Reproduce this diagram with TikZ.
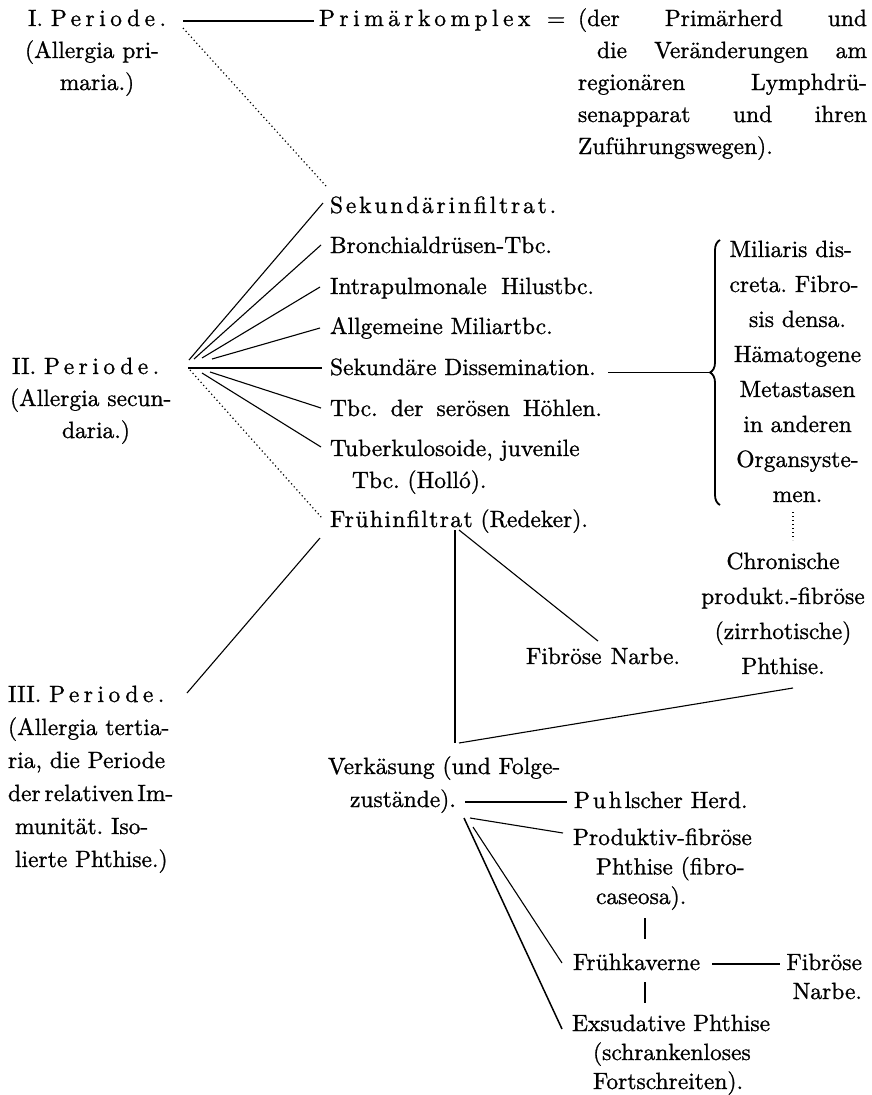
\documentclass[tikz,border=0pt]{standalone}
\usepackage{fontspec}
\setmainfont{lmroman10-regular.otf}[FakeBold=1]
\newfontfamily\spwide{lmroman10-regular.otf}[LetterSpace=19,FakeBold=1]
\newfontfamily\spmid{lmroman10-regular.otf}[LetterSpace=12,FakeBold=1]
\newfontfamily\spnarrow{lmroman10-regular.otf}[LetterSpace=6,FakeBold=1]
\usetikzlibrary{calc,decorations.pathreplacing}
\begin{document}
\begin{tikzpicture}[x=1pt,y=-1pt,
  txt/.style={inner sep=0pt,outer sep=0pt,anchor=base west,font=\fontsize{23.5}{32}\selectfont\frenchspacing},
  ln/.style={line width=1.1pt},
  dots/.style={line width=1.2pt,dash pattern=on 1.2pt off 2.8pt},
  bracestyle/.style={line width=1.8pt,decorate,decoration={brace,amplitude=10pt}}]
\fill[white] (0,0) rectangle (871,1095);
\useasboundingbox (0,0) rectangle (871,1095);

% ---------- Periode I ----------
\node[txt] (p1) at (28,26) {I. {\spwide Periode.}};
\node[txt,text width=144pt,align=center] (p1b) at (25,58) {\makebox[144pt][s]{(Allergia pri-}\\maria.)};
\node[txt] (pk) at (319,26) {{\spwide Primärkomplex}};
\node[txt] (eq) at (547,26) {=};
\node[txt,text width=289pt,align=justify] (pkt) at (578,26) {(der Primärherd und\linebreak\hspace*{19pt}die Veränderungen am\linebreak regionären Lymphdrü-\linebreak senapparat und ihren\linebreak Zuführungswegen).};

% ---------- Periode II ----------
\node[txt] (p2) at (12,374) {II. {\spwide Periode.}};
\node[txt,text width=172pt,align=center] (p2b) at (10,406) {\makebox[172pt][s]{(Allergia secun-}\\daria.)};
\coordinate (hub2) at (188,366);

\node[txt] (sek) at (330,213) {{\spmid Sekundärinfiltrat.}};
\node[txt] (bro) at (330,253) {Bronchialdrüsen-Tbc.};
\node[txt] (ipu) at (330,294) {\makebox[264pt][s]{Intrapulmonale Hilustbc.}};
\node[txt] (allg) at (330,334) {Allgemeine Miliartbc.};
\node[txt] (dis) at (330,375) {Sekundäre Dissemination.};
\node[txt] (ser) at (330,416) {\makebox[272pt][s]{Tbc. der serösen Höhlen.}};
\node[txt,text width=280pt,align=left] (tub) at (330,456) {\makebox[262pt][s]{Tuberkulosoide, juvenile}\\\hspace*{22pt}Tbc. (Holló).};
\node[txt] (frueh) at (330,527) {{\spnarrow Frühinfiltrat} (Redeker).};

\node[txt,text width=137pt,align=center,font=\fontsize{23.5}{35}\selectfont\frenchspacing] (mil) at (729,257)
  {\makebox[136pt][s]{Miliaris dis-}\\\makebox[136pt][s]{creta. Fibro-}\\sis densa.\\Hämatogene\\Metastasen\\in anderen\\Organsyste-\\men.};
\node[txt,text width=170pt,align=center,font=\fontsize{23.5}{35}\selectfont\frenchspacing] (chr) at (698,569)
  {Chronische\\produkt.-fibröse\\(zirrhotische)\\Phthise.};
\node[txt] (fn1) at (526,664) {\makebox[154pt][s]{Fibröse Narbe.}};

% ---------- Periode III ----------
\node[txt] (p3) at (8,702) {III. {\spwide Periode.}};
\node[txt,text width=172pt,align=left,font=\fontsize{23.5}{33}\selectfont\frenchspacing] (p3b) at (8,735)
  {\makebox[170pt][s]{(Allergia tertia-}\\\makebox[170pt][s]{ria, die Periode}\\der\,relativen\,Im-\\\hspace*{7pt}\makebox[155pt][s]{munität. Iso-}\\\hspace*{7pt}\makebox[157pt][s]{lierte Phthise.)}};

\node[txt,text width=240pt,align=left,font=\fontsize{23.5}{33}\selectfont\frenchspacing] (vk) at (328,774)
  {\makebox[237pt][s]{Verkäsung (und Folge-}\\\hspace*{22pt}zustände).};
\node[txt] (puhl) at (574,808) {{\spmid Puhl}scher Herd.};
\node[txt,text width=200pt,align=left,font=\fontsize{23.5}{29.5}\selectfont\frenchspacing] (prod) at (573,845)
  {Produktiv-fibröse\\\hspace*{23pt}Phthise (fibro-\\\hspace*{23pt}caseosa).};
\node[txt] (fk) at (573,970) {Frühkaverne};
\node[txt,text width=90pt,align=right,anchor=base east,font=\fontsize{23.5}{29}\selectfont\frenchspacing] (fn2) at (862,970) {Fibröse\\Narbe.};
\node[txt,text width=220pt,align=left,font=\fontsize{23.5}{29}\selectfont\frenchspacing] (ex) at (572,1031)
  {Exsudative Phthise\\\hspace*{21pt}(schrankenloses\\\hspace*{21pt}Fortschreiten).};

% ---------- connectors ----------
\draw[ln] ($(p1.base west)+(155,-5)$) -- ($(pk.base west)+(-5,-5)$);
\draw[dots] ($(p1.base west)+(155,2)$) -- ($(sek.base west)+(-4,-27)$);

\draw[ln] ($(hub2)+(1,-6)$) -- ($(sek.base west)+(-7,-10)$);
\draw[ln] ($(hub2)+(6,-7)$) -- ($(bro.base west)+(-9,-8)$);
\draw[ln] ($(hub2)+(14,-8)$) -- ($(ipu.base west)+(-10,-7)$);
\draw[ln] ($(hub2)+(24,-7)$) -- ($(allg.base west)+(-10,-6)$);
\draw[ln] ($(hub2)+(0,2)$) -- ($(dis.base west)+(-8,-7)$);
\draw[ln] ($(hub2)+(22,6)$) -- ($(ser.base west)+(-9,-8)$);
\draw[ln] ($(hub2)+(14,7)$) -- ($(tub.base west)+(-9,-9)$);
\draw[dots] ($(hub2)+(2,4)$) -- ($(frueh.base west)+(-8,-9)$);

\coordinate (brtip) at ($(mil.base west)+(-19,115.5)$);
\draw[ln] ($(dis.base west)+(278,-2.5)$) -- (brtip);
\draw[bracestyle] ($(mil.base west)+(-9,248)$) -- ($(mil.base west)+(-9,-17)$);
\draw[dots] ($(mil.base west)+(64,255)$) -- ($(chr.base west)+(95,-29)$);

\draw[ln] ($(frueh.base west)+(-10,11)$) -- ($(p3.base west)+(179,-9)$);
\draw[ln] ($(frueh.base west)+(125,3)$) -- ($(vk.base west)+(127,-31)$);
\draw[ln] ($(frueh.base west)+(129,3)$) -- ($(fn1.base west)+(72,-23)$);
\draw[ln] ($(vk.base west)+(131,-31)$) -- ($(chr.base west)+(95,119)$);

\draw[ln] ($(vk.base west)+(137,28)$) -- ($(puhl.base west)+(-7,-6)$);
\draw[ln] ($(vk.base west)+(142,44)$) -- ($(prod.base west)+(-10,-12)$);
\draw[ln] ($(vk.base west)+(145,53)$) -- ($(fk.base west)+(-11,-7)$);
\draw[ln,line width=1.5pt] ($(vk.base west)+(136,44)$) -- ($(ex.base west)+(-10,-2)$);
\draw[ln] ($(prod.base west)+(72,73)$) -- ($(fk.base west)+(72,-31)$);
\draw[ln] ($(fk.base west)+(139,-6)$) -- ($(fn2.base east)+(-82,-6)$);
\draw[ln] ($(fk.base west)+(72,12)$) -- ($(ex.base west)+(73,-28)$);
\end{tikzpicture}
\end{document}
